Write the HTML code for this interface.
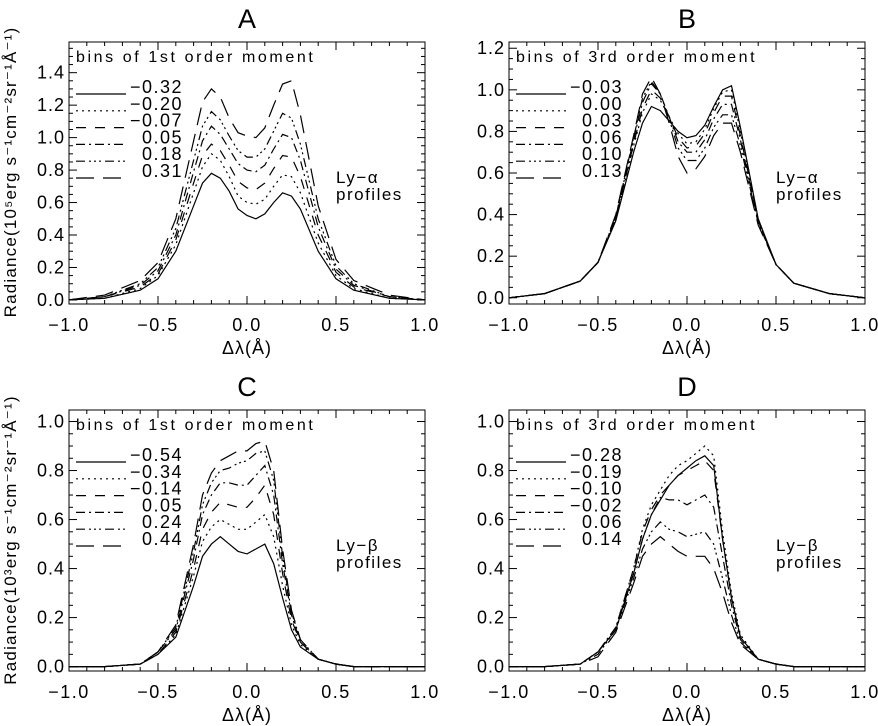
<!DOCTYPE html>
<html><head><meta charset="utf-8"><style>
html,body{margin:0;padding:0;background:#fff}
svg{display:block;font-family:"Liberation Sans",sans-serif}
</style></head><body>
<svg id="fig" width="878" height="726" viewBox="0 0 878 726"></svg>
<script>
const xGrid=[-1,-0.8,-0.6,-0.5,-0.4,-0.3,-0.25,-0.2,-0.15,-0.1,-0.05,0,0.05,0.1,0.15,0.2,0.25,0.3,0.4,0.5,0.6,0.8,1];
const xTicks=[-1.0,-0.5,0.0,0.5,1.0];
const panelTitles=["A","B","C","D"];
const legendLabelsA=["\u22120.32","\u22120.20","\u22120.07","0.05","0.18","0.31"];
const legendLabelsB=["\u22120.03","0.00","0.03","0.06","0.10","0.13"];
const legendLabelsC=["\u22120.54","\u22120.34","\u22120.14","0.05","0.24","0.44"];
const legendLabelsD=["\u22120.28","\u22120.19","\u22120.10","\u22120.02","0.06","0.14"];
const yTicksA=[0,0.2,0.4,0.6,0.8,1.0,1.2,1.4];
const yTicksB=[0,0.2,0.4,0.6,0.8,1.0,1.2];
const yTicksCD=[0,0.2,0.4,0.6,0.8,1.0];
const seriesA=[
[0,0.01,0.06,0.13,0.30,0.58,0.72,0.78,0.75,0.67,0.56,0.52,0.50,0.53,0.60,0.66,0.64,0.56,0.30,0.13,0.06,0.01,0],
[0,0.01,0.07,0.15,0.34,0.66,0.82,0.90,0.86,0.76,0.64,0.60,0.59,0.62,0.70,0.77,0.76,0.66,0.35,0.15,0.07,0.01,0],
[0,0.02,0.08,0.16,0.37,0.72,0.89,0.96,0.92,0.83,0.73,0.69,0.68,0.72,0.81,0.89,0.88,0.76,0.40,0.17,0.08,0.02,0],
[0,0.02,0.09,0.18,0.40,0.79,0.98,1.07,1.02,0.93,0.84,0.80,0.79,0.83,0.93,1.02,1.00,0.86,0.45,0.19,0.09,0.02,0],
[0,0.02,0.10,0.20,0.44,0.86,1.07,1.16,1.11,1.01,0.92,0.88,0.88,0.93,1.04,1.15,1.12,0.96,0.50,0.21,0.10,0.02,0],
[0,0.03,0.12,0.23,0.50,0.98,1.22,1.30,1.25,1.12,1.03,1.01,1.00,1.06,1.20,1.33,1.35,1.14,0.58,0.25,0.12,0.03,0]];
const seriesB=[
[0,0.02,0.08,0.17,0.37,0.70,0.84,0.92,0.90,0.85,0.80,0.77,0.78,0.83,0.92,1.00,1.02,0.82,0.38,0.16,0.07,0.02,0],
[0,0.02,0.08,0.17,0.38,0.73,0.89,0.98,0.95,0.87,0.79,0.74,0.75,0.81,0.91,0.99,1.00,0.80,0.37,0.16,0.07,0.02,0],
[0,0.02,0.08,0.17,0.38,0.74,0.91,1.00,0.96,0.87,0.77,0.72,0.73,0.79,0.89,0.97,0.97,0.78,0.37,0.16,0.07,0.02,0],
[0,0.02,0.08,0.17,0.39,0.76,0.94,1.03,0.98,0.87,0.75,0.70,0.70,0.76,0.86,0.93,0.93,0.76,0.36,0.16,0.07,0.02,0],
[0,0.02,0.08,0.17,0.39,0.77,0.96,1.04,0.98,0.86,0.72,0.66,0.66,0.72,0.82,0.88,0.88,0.73,0.36,0.16,0.07,0.02,0],
[0,0.02,0.08,0.17,0.40,0.78,0.98,1.06,0.98,0.84,0.68,0.60,0.62,0.68,0.78,0.84,0.84,0.70,0.35,0.16,0.07,0.02,0]];
const seriesC=[
[0,0,0.01,0.05,0.12,0.33,0.45,0.50,0.53,0.50,0.47,0.46,0.48,0.50,0.42,0.28,0.15,0.08,0.03,0.01,0,0,0],
[0,0,0.01,0.05,0.13,0.37,0.51,0.57,0.60,0.58,0.56,0.56,0.59,0.62,0.53,0.33,0.17,0.09,0.03,0.01,0,0,0],
[0,0,0.01,0.05,0.14,0.40,0.56,0.63,0.67,0.66,0.65,0.65,0.69,0.74,0.62,0.38,0.19,0.10,0.03,0.01,0,0,0],
[0,0,0.01,0.06,0.15,0.44,0.62,0.70,0.75,0.75,0.74,0.74,0.78,0.82,0.70,0.42,0.21,0.10,0.03,0.01,0,0,0],
[0,0,0.01,0.06,0.16,0.47,0.66,0.75,0.80,0.81,0.83,0.84,0.87,0.88,0.76,0.45,0.22,0.11,0.03,0.01,0,0,0],
[0,0,0.01,0.06,0.17,0.50,0.70,0.79,0.84,0.86,0.88,0.88,0.91,0.92,0.80,0.48,0.23,0.11,0.03,0.01,0,0,0]];
const seriesD=[
[0,0,0.01,0.06,0.15,0.38,0.52,0.62,0.68,0.74,0.78,0.81,0.84,0.86,0.82,0.52,0.28,0.12,0.03,0.01,0,0,0],
[0,0,0.01,0.06,0.16,0.40,0.56,0.66,0.72,0.78,0.82,0.84,0.87,0.90,0.86,0.55,0.30,0.13,0.03,0.01,0,0,0],
[0,0,0.01,0.06,0.16,0.40,0.55,0.64,0.70,0.74,0.78,0.80,0.82,0.84,0.80,0.52,0.28,0.12,0.03,0.01,0,0,0],
[0,0,0.01,0.06,0.16,0.38,0.52,0.62,0.69,0.68,0.68,0.66,0.68,0.70,0.65,0.45,0.25,0.11,0.03,0.01,0,0,0],
[0,0,0.01,0.05,0.15,0.36,0.48,0.55,0.59,0.56,0.55,0.53,0.54,0.55,0.50,0.36,0.21,0.10,0.03,0.01,0,0,0],
[0,0,0.01,0.04,0.14,0.34,0.45,0.50,0.53,0.50,0.47,0.45,0.45,0.45,0.40,0.30,0.18,0.09,0.03,0.01,0,0,0]];

const dashes=["none","2,4","10,9","9,4,2,4","9,4,2,3,2,3,2,4","18,9"];
const NS="http://www.w3.org/2000/svg";
const svg=document.getElementById('fig');
function mk(tag,attrs,parent,text){const e=document.createElementNS(NS,tag);for(const k in attrs)e.setAttribute(k,attrs[k]);if(text!==undefined)e.textContent=text;(parent||svg).appendChild(e);return e;}

function panel(p){
  const g=mk('g',{});
  
  
  const sx=v=>p.x0+(v+1)/2*(p.x1-p.x0);
  const sy=v=>p.y1-(v-p.ymin)/(p.ymax-p.ymin)*(p.y1-p.y0);
  const t=mk('text',{x:(p.x0+p.x1)/2,y:p.y0-14,'text-anchor':'middle','font-size':27},g,p.title);
  
  
  const box=mk('rect',{x:p.x0,y:p.y0,width:p.x1-p.x0,height:p.y1-p.y0,fill:'none',stroke:'#000','stroke-width':1},g);
  
  
  for(let v=-1;v<=1.0001;v+=0.1){
    const X=sx(v);const major=Math.abs(v*2-Math.round(v*2))<1e-6;const L=major?8:4;
    mk('line',{x1:X,x2:X,y1:p.y1,y2:p.y1-L,stroke:'#000'},g);
    mk('line',{x1:X,x2:X,y1:p.y0,y2:p.y0+L,stroke:'#000'},g);
  }
  xTicks.forEach(v=>{
    const tl=mk('text',{x:sx(v),y:p.y1+27,'text-anchor':'middle','font-size':18,'letter-spacing':'1.5'},g,(v<0?'\u2212':'')+Math.abs(v).toFixed(1));
    
    
  });
  const xl=mk('text',{x:(p.x0+p.x1)/2,y:p.y1+50,'text-anchor':'middle','font-size':18,'letter-spacing':'1'},g,'\u0394\u03bb(\u00c5)');
  
  
  for(let v=0;v<=p.ymax+1e-6;v+=0.05){
    const Y=sy(v);const major=Math.abs(v*5-Math.round(v*5))<1e-6;const L=major?8:4;
    mk('line',{x1:p.x0,x2:p.x0+L,y1:Y,y2:Y,stroke:'#000'},g);
    mk('line',{x1:p.x1,x2:p.x1-L,y1:Y,y2:Y,stroke:'#000'},g);
  }
  p.yTicks.forEach(v=>{
    const tl=mk('text',{x:p.x0-4,y:sy(v)+6,'text-anchor':'end','font-size':18,'letter-spacing':'1'},g,v.toFixed(1));
    
    
  });
  p.series.forEach((s,i)=>{
    const d=s.map((v,j)=>(j?'L':'M')+sx(xGrid[j]).toFixed(1)+','+sy(v).toFixed(1)).join('');
    const path=mk('path',{d:d,fill:'none',stroke:'#000','stroke-width':1.2,'stroke-dasharray':dashes[i]},g);
    
    
  });
  const lt=mk('text',{x:p.x0+7,y:p.y0+20,'font-size':16,'letter-spacing':'2.6'},g,p.legendTitle);
  
  
  p.labels.forEach((lab,i)=>{
    const yy=p.y0+50+i*16.8;
    const ln=mk('line',{x1:p.x0+7,x2:p.x0+57,y1:yy+2,y2:yy+2,stroke:'#000','stroke-width':1.2,'stroke-dasharray':dashes[i]},g);
    
    
    const tx=mk('text',{x:p.x0+114,y:yy+1,'text-anchor':'end','font-size':18,'letter-spacing':'1.5'},g,lab);
    
    
  });
  const n1=mk('text',{x:p.x0+267,y:p.y0+141,'font-size':17,'letter-spacing':'1.5'},g,p.line);
  
  
  const n2=mk('text',{x:p.x0+267,y:p.y0+158,'font-size':17,'letter-spacing':'1.5'},g,'profiles');
  
  
}
panel({title:'A',x0:69,x1:425,y0:42,y1:304,ymin:-0.025,ymax:1.589,yTicks:yTicksA,series:seriesA,labels:legendLabelsA,legendTitle:'bins of 1st order moment',line:'Ly\u2212\u03b1'});
panel({title:'B',x0:509,x1:865,y0:42,y1:304,ymin:-0.03,ymax:1.23,yTicks:yTicksB,series:seriesB,labels:legendLabelsB,legendTitle:'bins of 3rd order moment',line:'Ly\u2212\u03b1'});
panel({title:'C',x0:69,x1:425,y0:410,y1:671,ymin:-0.018,ymax:1.047,yTicks:yTicksCD,series:seriesC,labels:legendLabelsC,legendTitle:'bins of 1st order moment',line:'Ly\u2212\u03b2'});
panel({title:'D',x0:509,x1:865,y0:410,y1:671,ymin:-0.018,ymax:1.047,yTicks:yTicksCD,series:seriesD,labels:legendLabelsD,legendTitle:'bins of 3rd order moment',line:'Ly\u2212\u03b2'});
function ytitle(cy,exp){
  const t=mk('text',{x:0,y:0,'text-anchor':'middle','font-size':17,'letter-spacing':'1.2',transform:'translate(16,'+cy+') rotate(-90)'});
  
  
  t.textContent='Radiance(10'+exp+'erg s\u207b\u00b9cm\u207b\u00b2sr\u207b\u00b9\u00c5\u207b\u00b9)';
}
ytitle(172,'\u2075');
ytitle(540,'\u00b3');
</script>
</body></html>
